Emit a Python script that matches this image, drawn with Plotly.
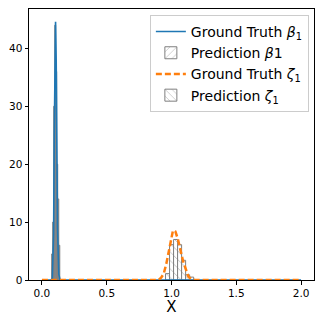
import plotly.graph_objects as go

# Ground truth densities
beta_x = [0.0, 0.07, 0.08, 0.09, 0.095, 0.1, 0.105, 0.11, 0.115, 0.12, 0.13, 0.14, 2.0]
beta_y = [0.0, 0.0, 0.3, 8.0, 25.0, 42.0, 44.6, 38.0, 22.0, 9.0, 1.0, 0.0, 0.0]

zeta_x = [0.0, 0.9, 0.92, 0.94, 0.96, 0.98, 0.99, 1.0, 1.01, 1.02, 1.03, 1.05,
          1.07, 1.09, 1.11, 1.13, 1.15, 1.18, 2.0]
zeta_y = [0.0, 0.0, 0.4, 1.1, 2.8, 5.0, 6.3, 7.6, 8.4, 8.6, 8.4, 7.0,
          4.8, 3.2, 1.9, 0.6, 0.2, 0.0, 0.0]

# Predicted histograms (bin centres and heights)
beta_bins = [0.078, 0.086, 0.094, 0.102, 0.110, 0.118, 0.126, 0.134]
beta_hist = [4.5, 10.0, 30.0, 44.0, 36.0, 20.0, 14.0, 6.0]
beta_width = 0.008

zeta_bins = [0.9695, 1.0005, 1.0315, 1.0625, 1.0935, 1.1245, 1.1555]
zeta_hist = [1.1, 6.1, 7.0, 6.1, 3.4, 0.9, 0.5]
zeta_width = 0.031

BLUE = '#1f77b4'
ORANGE = '#ff7f0e'
HATCH = '#7f7f7f'

fig = go.Figure()

# bars first so the lines sit on top (matplotlib zorder)
# the beta bins are so narrow that the hatching reads as solid grey
fig.add_trace(go.Bar(
    x=beta_bins, y=beta_hist, width=beta_width, showlegend=False,
    marker=dict(color='#8f8f8f', line=dict(color=HATCH, width=0.8))
))
# legend entry for the hatched beta histogram
fig.add_trace(go.Bar(
    x=[None], y=[None],
    name='Prediction <i>β</i>1', legendrank=2,
    marker=dict(color='white', line=dict(color=HATCH, width=1),
                pattern=dict(shape='/', fgcolor=HATCH, bgcolor='white', size=6, solidity=0.15))
))

fig.add_trace(go.Bar(
    x=zeta_bins, y=zeta_hist, width=zeta_width,
    name='Prediction <i>ζ</i><sub>1</sub>', legendrank=4,
    marker=dict(color='white', line=dict(color=HATCH, width=1),
                pattern=dict(shape='\\', fgcolor=HATCH, bgcolor='white', size=6, solidity=0.15))
))

fig.add_trace(go.Scatter(
    x=beta_x, y=beta_y, mode='lines',
    name='Ground Truth <i>β</i><sub>1</sub>', legendrank=1,
    line=dict(color=BLUE, width=1.6)
))

fig.add_trace(go.Scatter(
    x=zeta_x, y=zeta_y, mode='lines',
    name='Ground Truth <i>ζ</i><sub>1</sub>', legendrank=3,
    line=dict(color=ORANGE, width=2.5, dash='6px,3px')
))

# page body has an 8px margin, so the figure is 308x308 and sits at (8, 8)
fig.update_layout(
    width=308, height=308,
    margin=dict(l=21, r=2, t=1, b=36),
    paper_bgcolor='white', plot_bgcolor='white',
    font=dict(family='DejaVu Sans', color='black', size=10.5),
    barmode='overlay',
    legend=dict(
        x=0.982, y=0.978, xanchor='right', yanchor='top',
        bgcolor='rgba(255,255,255,0.8)', bordercolor='#cccccc', borderwidth=1,
        font=dict(size=14), traceorder='normal', tracegroupgap=0,
        itemwidth=30
    ),
    showlegend=True
)

fig.update_xaxes(
    range=[-0.1, 2.1], tickvals=[0.0, 0.5, 1.0, 1.5, 2.0], tickformat='.1f',
    showline=True, mirror=True, linecolor='black', linewidth=1, automargin=False,
    ticks='outside', ticklen=3.5, tickcolor='black', showgrid=False, zeroline=False,
    title=dict(text='X', font=dict(size=15), standoff=1)
)
fig.update_yaxes(
    range=[0, 46.8], tickvals=[0, 10, 20, 30, 40], automargin=False,
    showline=True, mirror=True, linecolor='black', linewidth=1,
    ticks='outside', ticklen=3.5, tickcolor='black', showgrid=False, zeroline=False
)

fig.write_html("out.html")
